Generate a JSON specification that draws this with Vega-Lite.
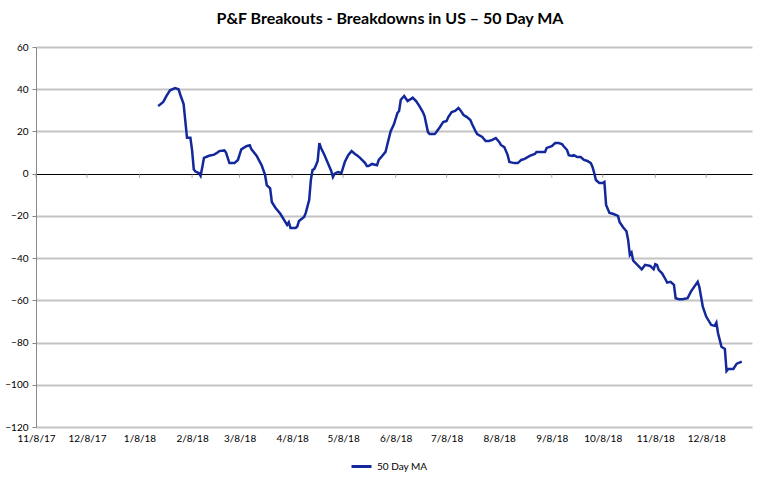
{
  "$schema": "https://vega.github.io/schema/vega-lite/v6.json",
  "width": 716,
  "height": 380,
  "autosize": {"type": "none"},
  "padding": {"left": 36, "top": 47, "right": 15, "bottom": 54},
  "background": "white",
  "title": {"text": "P&F Breakouts - Breakdowns in US – 50 Day MA", "font": "Lato", "fontSize": 16, "fontWeight": "bold", "color": "#000000", "offset": 15, "dx": -4},
  "config": {"view": {"stroke": null}, "font": "Lato"},
  "datasets": {
    "ma": [
      {"d": "2018-01-19", "v": 32}, {"d": "2018-01-22", "v": 34}, {"d": "2018-01-24", "v": 37}, {"d": "2018-01-26", "v": 39.5},
      {"d": "2018-01-29", "v": 40.5}, {"d": "2018-01-31", "v": 40}, {"d": "2018-02-01", "v": 37.5}, {"d": "2018-02-03", "v": 33},
      {"d": "2018-02-04", "v": 25}, {"d": "2018-02-05", "v": 17}, {"d": "2018-02-07", "v": 17}, {"d": "2018-02-08", "v": 11},
      {"d": "2018-02-09", "v": 2}, {"d": "2018-02-10", "v": 1}, {"d": "2018-02-12", "v": 0.3}, {"d": "2018-02-13", "v": -1},
      {"d": "2018-02-14", "v": 3}, {"d": "2018-02-15", "v": 7.5}, {"d": "2018-02-18", "v": 8.5}, {"d": "2018-02-21", "v": 9},
      {"d": "2018-02-23", "v": 10}, {"d": "2018-02-24", "v": 10.7}, {"d": "2018-02-27", "v": 11}, {"d": "2018-02-28", "v": 10},
      {"d": "2018-03-02", "v": 5}, {"d": "2018-03-05", "v": 5}, {"d": "2018-03-07", "v": 6.5}, {"d": "2018-03-08", "v": 9},
      {"d": "2018-03-09", "v": 11.5}, {"d": "2018-03-12", "v": 13}, {"d": "2018-03-14", "v": 13.5}, {"d": "2018-03-15", "v": 11.5},
      {"d": "2018-03-18", "v": 8.5}, {"d": "2018-03-20", "v": 5.5}, {"d": "2018-03-21", "v": 4}, {"d": "2018-03-23", "v": -0.6},
      {"d": "2018-03-24", "v": -5.4}, {"d": "2018-03-26", "v": -7}, {"d": "2018-03-27", "v": -13.4}, {"d": "2018-03-29", "v": -16},
      {"d": "2018-04-01", "v": -19}, {"d": "2018-04-04", "v": -23}, {"d": "2018-04-05", "v": -24.3}, {"d": "2018-04-06", "v": -23},
      {"d": "2018-04-07", "v": -25.7}, {"d": "2018-04-10", "v": -25.7}, {"d": "2018-04-11", "v": -25}, {"d": "2018-04-12", "v": -22.4},
      {"d": "2018-04-15", "v": -20.5}, {"d": "2018-04-16", "v": -18.6}, {"d": "2018-04-18", "v": -12.5}, {"d": "2018-04-19", "v": -3},
      {"d": "2018-04-20", "v": 1.8}, {"d": "2018-04-21", "v": 2.2}, {"d": "2018-04-22", "v": 4}, {"d": "2018-04-23", "v": 6},
      {"d": "2018-04-24", "v": 14.5}, {"d": "2018-04-25", "v": 12.2}, {"d": "2018-04-27", "v": 8.8}, {"d": "2018-04-29", "v": 5},
      {"d": "2018-05-01", "v": 1.3}, {"d": "2018-05-02", "v": -1.6}, {"d": "2018-05-03", "v": 0}, {"d": "2018-05-05", "v": 0.8},
      {"d": "2018-05-07", "v": 0.3}, {"d": "2018-05-09", "v": 5.5}, {"d": "2018-05-11", "v": 8.8}, {"d": "2018-05-13", "v": 10.7},
      {"d": "2018-05-15", "v": 9.3}, {"d": "2018-05-16", "v": 8.8}, {"d": "2018-05-18", "v": 7.5}, {"d": "2018-05-21", "v": 5},
      {"d": "2018-05-22", "v": 3.6}, {"d": "2018-05-23", "v": 3.6}, {"d": "2018-05-25", "v": 4.6}, {"d": "2018-05-28", "v": 4},
      {"d": "2018-05-29", "v": 6.5}, {"d": "2018-05-31", "v": 8.4}, {"d": "2018-06-02", "v": 10.3}, {"d": "2018-06-03", "v": 13.6},
      {"d": "2018-06-05", "v": 20}, {"d": "2018-06-07", "v": 23.5}, {"d": "2018-06-09", "v": 28.7}, {"d": "2018-06-10", "v": 29.7},
      {"d": "2018-06-11", "v": 35}, {"d": "2018-06-13", "v": 36.8}, {"d": "2018-06-15", "v": 34.4}, {"d": "2018-06-17", "v": 35.4},
      {"d": "2018-06-18", "v": 36}, {"d": "2018-06-20", "v": 34.4}, {"d": "2018-06-22", "v": 32}, {"d": "2018-06-24", "v": 29.2},
      {"d": "2018-06-25", "v": 27.3}, {"d": "2018-06-27", "v": 19.7}, {"d": "2018-06-28", "v": 18.8}, {"d": "2018-07-01", "v": 18.8},
      {"d": "2018-07-02", "v": 19.7}, {"d": "2018-07-04", "v": 22}, {"d": "2018-07-06", "v": 24.5}, {"d": "2018-07-08", "v": 25},
      {"d": "2018-07-09", "v": 26.8}, {"d": "2018-07-11", "v": 29.2}, {"d": "2018-07-13", "v": 29.7}, {"d": "2018-07-15", "v": 31.1},
      {"d": "2018-07-16", "v": 30.2}, {"d": "2018-07-18", "v": 27.8}, {"d": "2018-07-20", "v": 26.8}, {"d": "2018-07-22", "v": 25.4},
      {"d": "2018-07-23", "v": 23.5}, {"d": "2018-07-25", "v": 20.2}, {"d": "2018-07-26", "v": 18.8}, {"d": "2018-07-29", "v": 17.4},
      {"d": "2018-07-31", "v": 15.5}, {"d": "2018-08-02", "v": 15.5}, {"d": "2018-08-04", "v": 16}, {"d": "2018-08-06", "v": 16.9},
      {"d": "2018-08-08", "v": 15}, {"d": "2018-08-09", "v": 13.6}, {"d": "2018-08-11", "v": 12.6}, {"d": "2018-08-13", "v": 8.8},
      {"d": "2018-08-14", "v": 5.5}, {"d": "2018-08-17", "v": 5}, {"d": "2018-08-19", "v": 5}, {"d": "2018-08-21", "v": 6.5},
      {"d": "2018-08-23", "v": 7}, {"d": "2018-08-26", "v": 8.4}, {"d": "2018-08-29", "v": 9.3}, {"d": "2018-08-30", "v": 10.3},
      {"d": "2018-09-01", "v": 10.3}, {"d": "2018-09-04", "v": 10.3}, {"d": "2018-09-05", "v": 12.2}, {"d": "2018-09-08", "v": 13},
      {"d": "2018-09-10", "v": 14.5}, {"d": "2018-09-12", "v": 14.5}, {"d": "2018-09-14", "v": 14}, {"d": "2018-09-15", "v": 13},
      {"d": "2018-09-17", "v": 11.2}, {"d": "2018-09-18", "v": 8.8}, {"d": "2018-09-20", "v": 8.4}, {"d": "2018-09-21", "v": 8.8},
      {"d": "2018-09-23", "v": 7.9}, {"d": "2018-09-25", "v": 7.9}, {"d": "2018-09-27", "v": 6.5}, {"d": "2018-09-29", "v": 6},
      {"d": "2018-10-01", "v": 5}, {"d": "2018-10-02", "v": 3.2}, {"d": "2018-10-03", "v": 0.3}, {"d": "2018-10-04", "v": -3},
      {"d": "2018-10-06", "v": -4.4}, {"d": "2018-10-08", "v": -4.4}, {"d": "2018-10-09", "v": -3.9}, {"d": "2018-10-10", "v": -14.8},
      {"d": "2018-10-12", "v": -18.6}, {"d": "2018-10-14", "v": -19}, {"d": "2018-10-17", "v": -20}, {"d": "2018-10-18", "v": -23},
      {"d": "2018-10-20", "v": -25.4}, {"d": "2018-10-22", "v": -27.3}, {"d": "2018-10-23", "v": -31.4}, {"d": "2018-10-24", "v": -38.5},
      {"d": "2018-10-25", "v": -37.4}, {"d": "2018-10-26", "v": -41.2}, {"d": "2018-10-28", "v": -42.8}, {"d": "2018-10-31", "v": -45.3},
      {"d": "2018-11-02", "v": -43.2}, {"d": "2018-11-05", "v": -43.7}, {"d": "2018-11-07", "v": -45.3}, {"d": "2018-11-08", "v": -42.9},
      {"d": "2018-11-09", "v": -43.2}, {"d": "2018-11-10", "v": -45.6}, {"d": "2018-11-12", "v": -47.2}, {"d": "2018-11-14", "v": -50},
      {"d": "2018-11-15", "v": -51.6}, {"d": "2018-11-17", "v": -51.2}, {"d": "2018-11-19", "v": -52.7}, {"d": "2018-11-20", "v": -59},
      {"d": "2018-11-22", "v": -59.5}, {"d": "2018-11-24", "v": -59.5}, {"d": "2018-11-27", "v": -59}, {"d": "2018-11-29", "v": -55.9},
      {"d": "2018-12-01", "v": -53.5}, {"d": "2018-12-03", "v": -51.2}, {"d": "2018-12-04", "v": -53.8}, {"d": "2018-12-06", "v": -63},
      {"d": "2018-12-08", "v": -67.7}, {"d": "2018-12-11", "v": -71.7}, {"d": "2018-12-13", "v": -72.1}, {"d": "2018-12-14", "v": -70.6},
      {"d": "2018-12-15", "v": -75.6}, {"d": "2018-12-17", "v": -82}, {"d": "2018-12-19", "v": -83}, {"d": "2018-12-20", "v": -93.5},
      {"d": "2018-12-21", "v": -92.5}, {"d": "2018-12-24", "v": -92.5}, {"d": "2018-12-26", "v": -90}, {"d": "2018-12-29", "v": -89}
    ],
    "months": [
      {"m": "2017-11-08"}, {"m": "2017-12-08"}, {"m": "2018-01-08"}, {"m": "2018-02-08"}, {"m": "2018-03-08"},
      {"m": "2018-04-08"}, {"m": "2018-05-08"}, {"m": "2018-06-08"}, {"m": "2018-07-08"}, {"m": "2018-08-08"},
      {"m": "2018-09-08"}, {"m": "2018-10-08"}, {"m": "2018-11-08"}, {"m": "2018-12-08"}
    ]
  },
  "layer": [
    {
      "data": {"name": "ma"},
      "mark": {"type": "line", "strokeWidth": 2.5},
      "encoding": {
        "x": {
          "field": "d", "type": "temporal",
          "scale": {"type": "utc", "domain": ["2017-11-08", "2019-01-04"]},
          "axis": {
            "title": null, "format": "%-m/%-d/%y", "domain": false, "ticks": false, "grid": false,
            "labelFont": "Lato", "labelFontSize": 10, "labelColor": "#000000", "labelPadding": 6,
            "labelOverlap": false, "labelFlush": false,
            "values": [
              {"year": 2017, "month": 11, "date": 8, "utc": true}, {"year": 2017, "month": 12, "date": 8, "utc": true},
              {"year": 2018, "month": 1, "date": 8, "utc": true}, {"year": 2018, "month": 2, "date": 8, "utc": true},
              {"year": 2018, "month": 3, "date": 8, "utc": true}, {"year": 2018, "month": 4, "date": 8, "utc": true},
              {"year": 2018, "month": 5, "date": 8, "utc": true}, {"year": 2018, "month": 6, "date": 8, "utc": true},
              {"year": 2018, "month": 7, "date": 8, "utc": true}, {"year": 2018, "month": 8, "date": 8, "utc": true},
              {"year": 2018, "month": 9, "date": 8, "utc": true}, {"year": 2018, "month": 10, "date": 8, "utc": true},
              {"year": 2018, "month": 11, "date": 8, "utc": true}, {"year": 2018, "month": 12, "date": 8, "utc": true}
            ]
          }
        },
        "y": {
          "field": "v", "type": "quantitative",
          "scale": {"domain": [-120, 60], "nice": false, "zero": false},
          "axis": {
            "title": null, "values": [-120, -100, -80, -60, -40, -20, 0, 20, 40, 60],
            "labelFont": "Lato", "labelFontSize": 10, "labelColor": "#000000", "labelPadding": 4,
            "domainColor": "#888888", "tickColor": "#888888", "tickSize": 4,
            "grid": true,
            "gridColor": {"condition": {"test": "datum.value === 0", "value": "#000000"}, "value": "#c4c4c4"},
            "gridWidth": {"condition": {"test": "datum.value === 0", "value": 1.2}, "value": 2}
          }
        },
        "color": {
          "datum": "50 Day MA",
          "scale": {"range": ["#13289A"]},
          "legend": {
            "title": null, "orient": "none", "legendX": 314, "legendY": 408, "direction": "horizontal",
            "symbolType": "stroke", "symbolStrokeWidth": 3, "symbolSize": 400,
            "labelFont": "Lato", "labelFontSize": 10, "labelColor": "#000000"
          }
        }
      }
    },
    {
      "data": {"name": "months"},
      "mark": {"type": "tick", "orient": "vertical", "size": 4, "thickness": 1, "yOffset": 2, "color": "#808080"},
      "encoding": {
        "x": {"field": "m", "type": "temporal", "axis": {"title": null}},
        "y": {"datum": 0, "type": "quantitative", "axis": {"title": null}}
      }
    }
  ]
}
